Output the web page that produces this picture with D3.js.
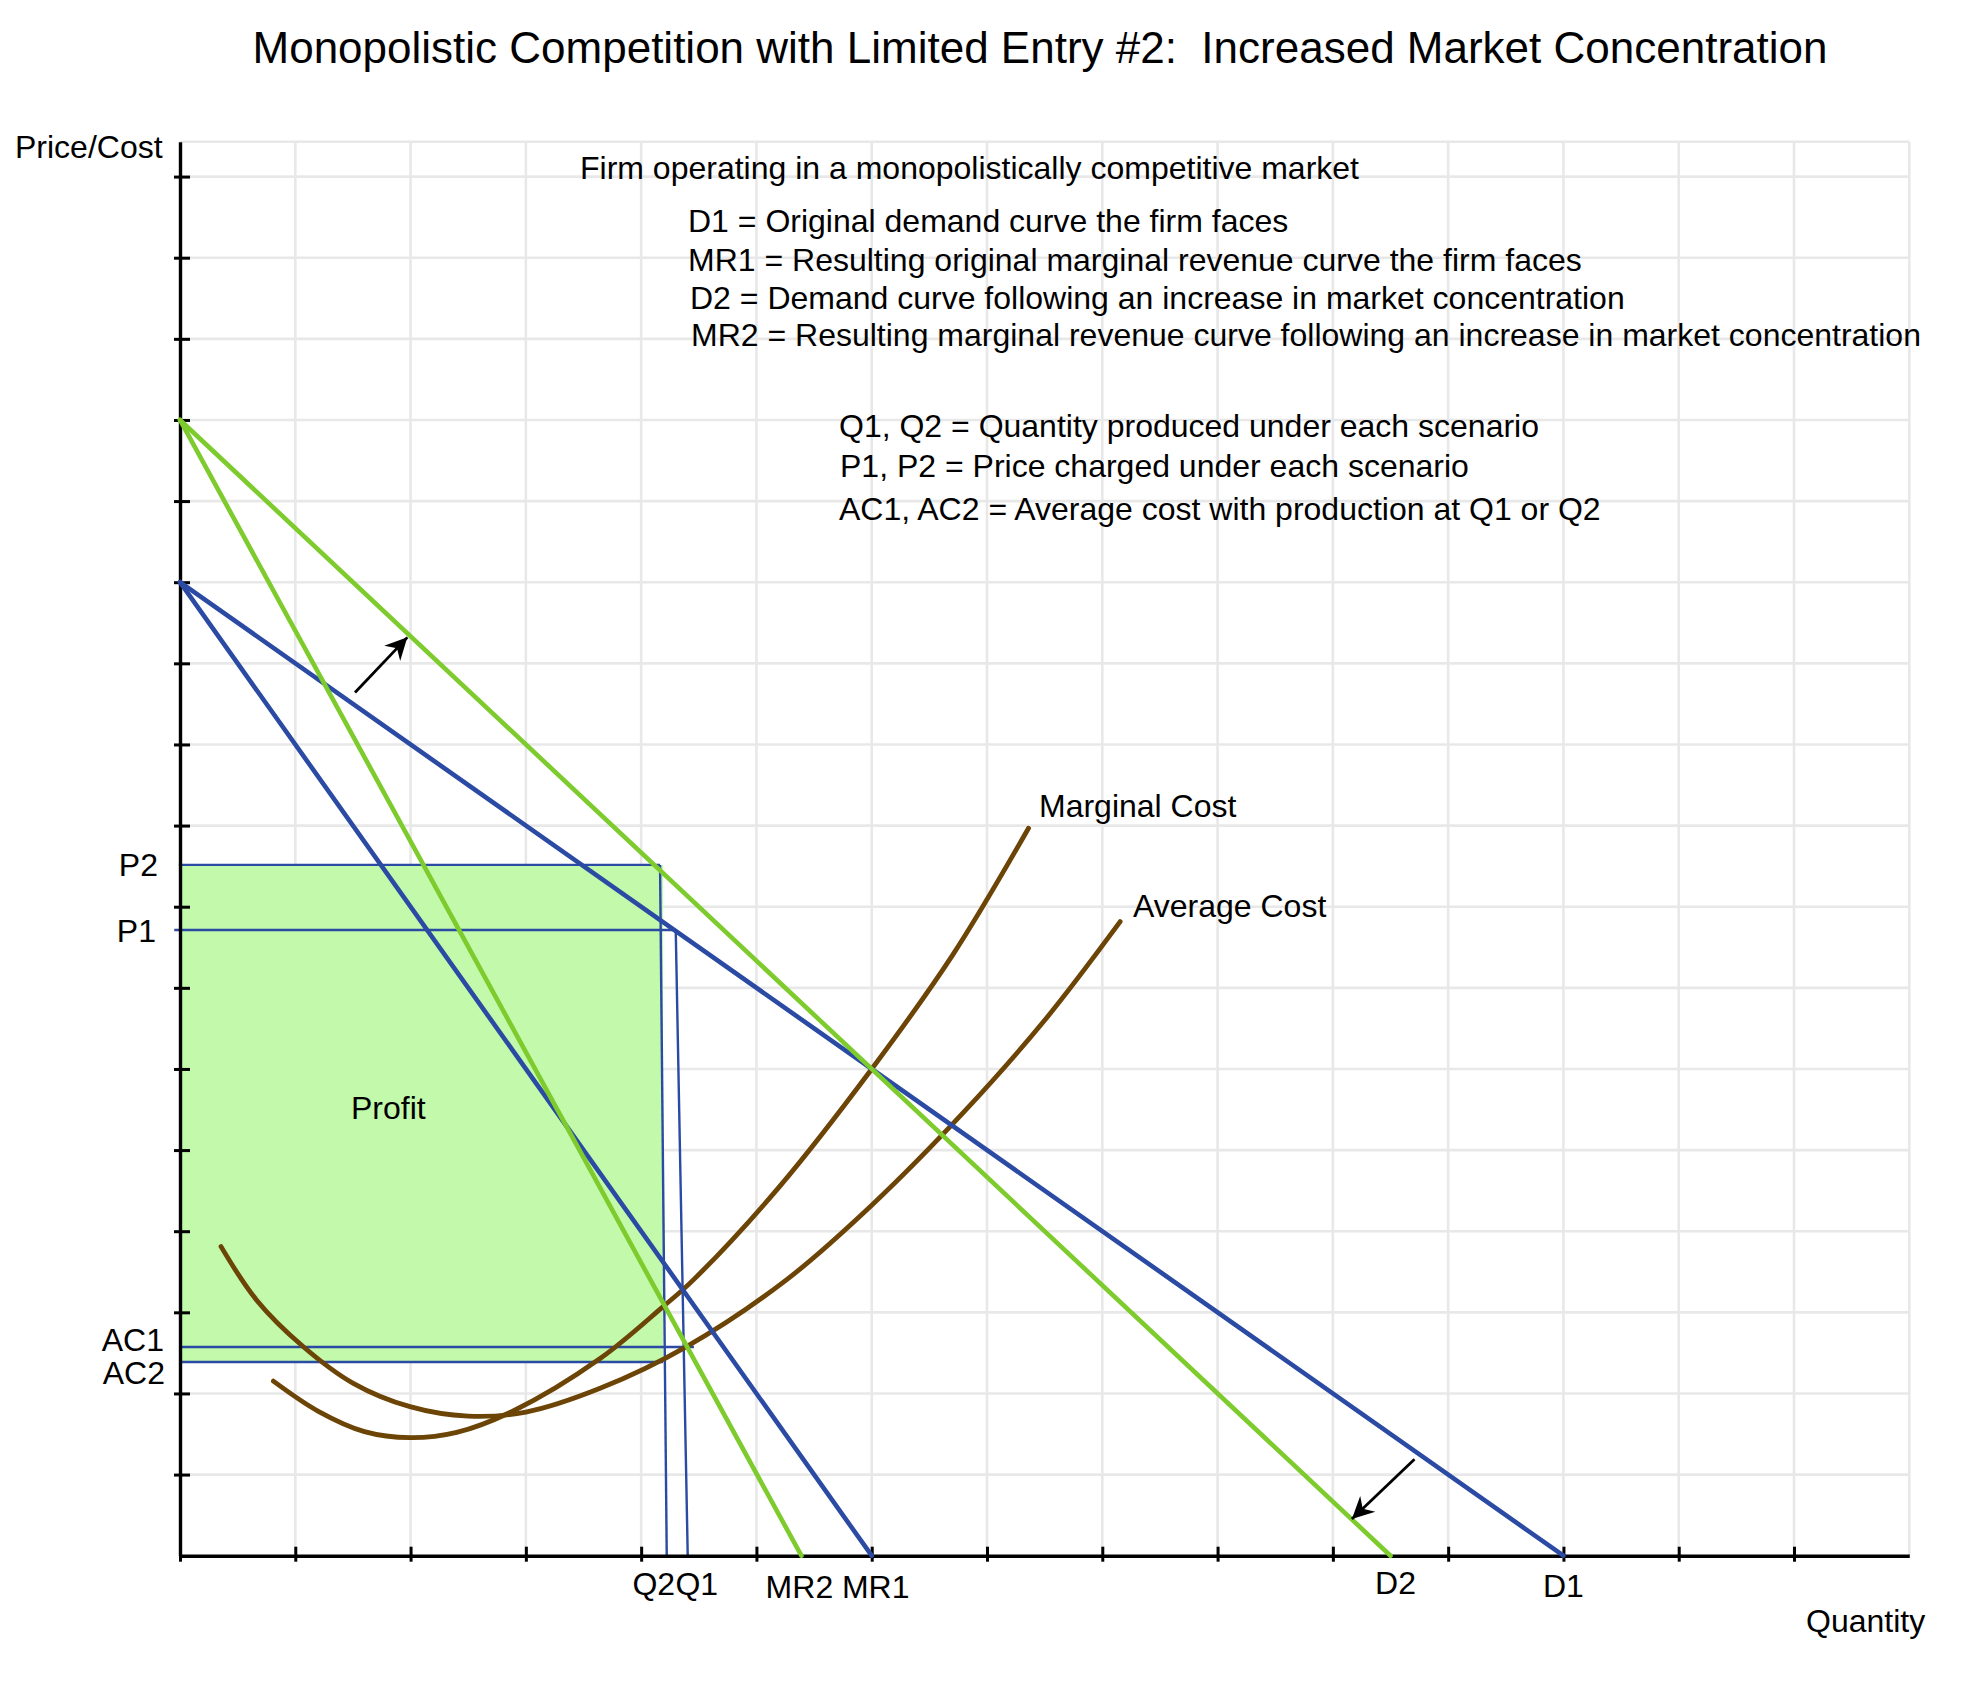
<!DOCTYPE html>
<html><head><meta charset="utf-8">
<script src="https://cdn.jsdelivr.net/npm/d3@7"></script>
<style>
body{margin:0;background:#fff}
text{font-family:"Liberation Sans",Arial,Helvetica,sans-serif;fill:#000;white-space:pre}
</style>
</head><body>
<svg id="chart" width="1978" height="1696"></svg>
<script>
// ---------------- DATA ----------------
const titleText = "Monopolistic Competition with Limited Entry #2:  Increased Market Concentration";
const yAxisLabel = "Price/Cost";
const xAxisLabel = "Quantity";

const xTickValues = [0,1,2,3,4,5,6,7,8,9,10,11,12,13,14];
const yTickValues = [1,2,3,4,5,6,7,8,9,10,11,12,13,14,15,16,17];
const xGridValues = [1,2,3,4,5,6,7,8,9,10,11,12,13,14,15];
const yGridValues = [1,2,3,4,5,6,7,8,9,10,11,12,13,14,15,16,17,17.43];

// straight demand / marginal revenue lines
const lineNames = ["D1","MR1","D2","MR2"];
const linePriceIntercepts = [12,12,14,14];
const lineQuantityIntercepts = [12,6,10.5,5.39];

// cost curves
const mcQuantity = [0.81,1.2,1.6,1.995,2.4,2.89,3.644,4.19,4.453,5.2,6.0,6.7,7.36];
const mcCost     = [2.152,1.78,1.53,1.455,1.52,1.784,2.43,3.07,3.40,4.55,6.0,7.4,8.967];
const acQuantity = [0.356,0.665,1.07,1.503,1.995,2.5,3.0,3.644,4.394,5.26,6.0,6.8,7.5,8.155];
const acCost     = [3.81,3.15,2.576,2.125,1.837,1.72,1.77,2.063,2.577,3.40,4.32,5.47,6.60,7.816];

// equilibria: index 0 = scenario 1, index 1 = scenario 2
const eqIds = ["1","2"];
const eqQuantityTop = [4.30,4.164];
const eqQuantityBottom = [4.404,4.222];
const eqPrice = [7.713,8.515];
const eqPriceLineStart = [-0.05,-0.01];
const eqAvgCost = [2.573,2.388];
const eqAvgCostLineEnd = [4.458,4.19];
const profitQuantity = 4.19;

// shift arrows
const arrowFromQ = [1.518,10.708];
const arrowFromP = [10.64,1.188];
const arrowToQ = [1.972,10.165];
const arrowToP = [11.32,0.452];

const noteLines = [
  "Firm operating in a monopolistically competitive market",
  "D1 = Original demand curve the firm faces",
  "MR1 = Resulting original marginal revenue curve the firm faces",
  "D2 = Demand curve following an increase in market concentration",
  "MR2 = Resulting marginal revenue curve following an increase in market concentration",
  "Q1, Q2 = Quantity produced under each scenario",
  "P1, P2 = Price charged under each scenario",
  "AC1, AC2 = Average cost with production at Q1 or Q2"
];
const curveLabels = ["Marginal Cost","Average Cost"];
const profitLabel = "Profit";

// ---------------- LAYOUT ----------------
const svg = d3.select("#chart");
const x = d3.scaleLinear().domain([0,15]).range([180,1909.3]);
const y = d3.scaleLinear().domain([0,17.43]).range([1555.7,141.7]);

const BLUE = "#2b4aa3", GREEN = "#7dcb2d", BROWN = "#6b4406", GRID = "#e8e8e8", FILL = "#c2f9aa";
const FONT = 32;

// grid
const grid = svg.append("g");
grid.selectAll(".gv").data(xGridValues).enter().append("line")
  .attr("x1",d=>x(d)).attr("x2",d=>x(d)).attr("y1",y(0)).attr("y2",y(17.43))
  .attr("stroke",GRID).attr("stroke-width",2.6);
grid.selectAll(".gh").data(yGridValues).enter().append("line")
  .attr("x1",x(0)).attr("x2",x(15)).attr("y1",d=>y(d)).attr("y2",d=>y(d))
  .attr("stroke",GRID).attr("stroke-width",2.6);

// profit rectangle
svg.append("rect")
  .attr("x",x(0)).attr("y",y(eqPrice[1]))
  .attr("width",x(profitQuantity)-x(0)).attr("height",y(eqAvgCost[1])-y(eqPrice[1]))
  .attr("fill",FILL);

// thin equilibrium lines
const thin = svg.append("g").attr("stroke",BLUE).attr("stroke-width",2.4).attr("fill","none");
eqIds.forEach((id,i)=>{
  thin.append("line").attr("x1",x(eqPriceLineStart[i])).attr("x2",x(eqQuantityTop[i]))
    .attr("y1",y(eqPrice[i])).attr("y2",y(eqPrice[i]));
  thin.append("line").attr("x1",x(eqQuantityTop[i])).attr("x2",x(eqQuantityBottom[i]))
    .attr("y1",y(eqPrice[i])).attr("y2",y(0));
  thin.append("line").attr("x1",x(0)).attr("x2",x(eqAvgCostLineEnd[i]))
    .attr("y1",y(eqAvgCost[i])).attr("y2",y(eqAvgCost[i]));
});

// axes
const yAxis = svg.append("g").attr("transform",`translate(${x(0)},0)`)
  .call(d3.axisLeft(y).tickValues(yTickValues).tickSizeOuter(0).tickFormat(""));
yAxis.selectAll(".tick line").attr("x1",-6).attr("x2",10).attr("stroke","#000").attr("stroke-width",3);
yAxis.select(".domain").attr("stroke","#000").attr("stroke-width",3.4);

const xAxis = svg.append("g").attr("transform",`translate(0,${y(0)})`)
  .call(d3.axisBottom(x).tickValues(xTickValues).tickSizeOuter(0).tickFormat(""));
xAxis.selectAll(".tick line").attr("y1",-9).attr("y2",6).attr("stroke","#000").attr("stroke-width",3);
xAxis.select(".domain").attr("stroke","#000").attr("stroke-width",3.4);

// cost curves
const costLine = d3.line().x(d=>x(d[0])).y(d=>y(d[1])).curve(d3.curveCatmullRom.alpha(0.5));
svg.append("path").datum(mcQuantity.map((q,i)=>[q,mcCost[i]])).attr("d",costLine)
  .attr("fill","none").attr("stroke",BROWN).attr("stroke-width",4.8).attr("stroke-linecap","round");
svg.append("path").datum(acQuantity.map((q,i)=>[q,acCost[i]])).attr("d",costLine)
  .attr("fill","none").attr("stroke",BROWN).attr("stroke-width",4.8).attr("stroke-linecap","round");

// demand / MR lines
lineNames.forEach((n,i)=>{
  svg.append("line")
    .attr("x1",x(0)).attr("y1",y(linePriceIntercepts[i]))
    .attr("x2",x(lineQuantityIntercepts[i])).attr("y2",y(0))
    .attr("stroke",n.endsWith("1")?BLUE:GREEN).attr("stroke-width",4.6).attr("stroke-linecap","round");
});

// arrows
svg.append("defs").append("marker").attr("id","arr")
  .attr("markerUnits","userSpaceOnUse").attr("viewBox","-24 -14 28 28")
  .attr("markerWidth",28).attr("markerHeight",28).attr("refX",0).attr("refY",0).attr("orient","auto")
  .append("path").attr("d","M0,0 L-22,-11 L-15,0 L-22,11 Z").attr("fill","#000");
arrowFromQ.forEach((q,i)=>{
  svg.append("line").attr("x1",x(q)).attr("y1",y(arrowFromP[i]))
    .attr("x2",x(arrowToQ[i])).attr("y2",y(arrowToP[i]))
    .attr("stroke","#000").attr("stroke-width",2.8).attr("marker-end","url(#arr)");
});

// ---------------- TEXT ----------------
svg.append("text").attr("x",1040).attr("y",63).attr("text-anchor","middle")
  .attr("font-size",44).text(titleText);
svg.append("text").attr("x",15).attr("y",158).attr("font-size",FONT).text(yAxisLabel);
svg.append("text").attr("x",1806).attr("y",1632).attr("font-size",FONT).text(xAxisLabel);

const notePos = [[580,179],[688,232],[688,271],[690,309],[691,346],[839,437],[840,477],[839,520]];
noteLines.forEach((t,i)=>{
  svg.append("text").attr("x",notePos[i][0]).attr("y",notePos[i][1]).attr("font-size",FONT).text(t);
});

svg.append("text").attr("x",1039).attr("y",817).attr("font-size",FONT).text(curveLabels[0]);
svg.append("text").attr("x",1133).attr("y",917).attr("font-size",FONT).text(curveLabels[1]);
svg.append("text").attr("x",351).attr("y",1119).attr("font-size",FONT).text(profitLabel);

// price / cost labels on the y axis
svg.append("text").attr("x",158).attr("y",y(eqPrice[1])+11).attr("text-anchor","end").attr("font-size",FONT).text("P2");
svg.append("text").attr("x",156).attr("y",y(eqPrice[0])+12).attr("text-anchor","end").attr("font-size",FONT).text("P1");
svg.append("text").attr("x",164).attr("y",y(eqAvgCost[0])+4).attr("text-anchor","end").attr("font-size",FONT).text("AC1");
svg.append("text").attr("x",165).attr("y",y(eqAvgCost[1])+22).attr("text-anchor","end").attr("font-size",FONT).text("AC2");

// quantity labels on the x axis
svg.append("text").attr("x",x(eqQuantityBottom[1])-13).attr("y",1595).attr("text-anchor","middle").attr("font-size",FONT).text("Q2");
svg.append("text").attr("x",x(eqQuantityBottom[0])+9).attr("y",1595).attr("text-anchor","middle").attr("font-size",FONT).text("Q1");
lineNames.forEach((n,i)=>{
  const base = n.startsWith("MR") ? 1598 : (n==="D2" ? 1594 : 1597);
  svg.append("text").attr("x",x(lineQuantityIntercepts[i])+(n==="D2"?5:0)+(n==="MR2"?-2:0)+(n==="MR1"?4:0)).attr("y",base)
    .attr("text-anchor","middle").attr("font-size",FONT).text(n);
});
</script>
</body></html>
